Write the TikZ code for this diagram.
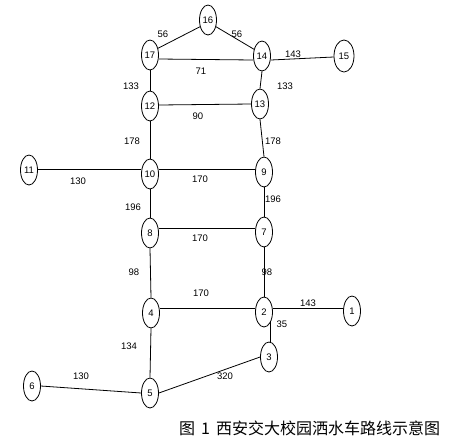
\documentclass[tikz,border=0pt]{standalone}
\usepackage{fontspec}
\setmainfont{Liberation Sans}
\newfontfamily\cjk{Noto Sans CJK SC}
\usetikzlibrary{shapes.geometric}
\begin{document}
\begin{tikzpicture}[x=1pt,y=-1pt,
  vtx/.style={draw,ellipse,minimum width=17pt,minimum height=30pt,inner sep=0pt,line width=0.8pt,font=\fontsize{9.5}{9.5}\selectfont},
  lbl/.style={font=\fontsize{9.5}{9.5}\selectfont,inner sep=0pt},
  edge/.style={draw,line width=0.8pt}]
\useasboundingbox (0,0) rectangle (451,440);
% nodes
\node[vtx] (16) at (208,20) {16};
\node[vtx] (17) at (150,55) {17};
\node[vtx] (14) at (262,56) {14};
\node[vtx,minimum width=20pt,minimum height=32pt] (15) at (344,56) {15};
\node[vtx] (12) at (150,106) {12};
\node[vtx] (13) at (260,104) {13};
\node[vtx] (11) at (29,170) {11};
\node[vtx] (10) at (150,174) {10};
\node[vtx] (9) at (264,172) {9};
\node[vtx] (8) at (150,233) {8};
\node[vtx] (7) at (264,232) {7};
\node[vtx] (4) at (151,313) {4};
\node[vtx] (2) at (264,312) {2};
\node[vtx] (1) at (352,311) {1};
\node[vtx] (3) at (269,357) {3};
\node[vtx] (6) at (32,386) {6};
\node[vtx] (5) at (150,393) {5};
% edges
\draw[edge] (16.220) -- (17.40);
\draw[edge] (16.-40) -- (14.140);
\draw[edge] ([yshift=-4pt]17.east) -- ([yshift=-4pt]14.west);
\draw[edge] ([yshift=-4pt]14.east) -- ([yshift=-1pt]15.west);
\draw[edge] (17.south) -- (12.north);
\draw[edge] (14.south) -- (13.north);
\draw[edge] ([yshift=1pt]12.east) -- (13.west);
\draw[edge] (12.south) -- (10.north);
\draw[edge] (13.south) -- (9.north);
\draw[edge] ([yshift=1pt]11.east) -- ([yshift=5pt]10.west);
\draw[edge] ([yshift=5pt]10.east) -- ([yshift=3pt]9.west);
\draw[edge] (10.south) -- (8.north);
\draw[edge] (9.south) -- (7.north);
\draw[edge] ([yshift=5pt]8.east) -- ([yshift=4pt]7.west);
\draw[edge] (8.south) -- (4.north);
\draw[edge] (7.south) -- (2.north);
\draw[edge] ([yshift=5pt]4.east) -- ([yshift=4pt]2.west);
\draw[edge] ([yshift=4pt]2.east) -- ([yshift=3pt]1.west);
\draw[edge] (2.-55) -- (2.-55 |- 3.north);
\draw[edge] (4.south) -- (5.north);
\draw[edge] (6.east) -- (5.west);
\draw[edge] (5.east) -- (3.west);
% labels
\node[lbl] (l1) at (163,34) {56};
\node[lbl] (l2) at (237,34) {56};
\node[lbl] (l3) at (201,71) {71};
\node[lbl] (l4) at (293,54) {143};
\node[lbl] (l5) at (131,86) {133};
\node[lbl] (l6) at (285,86) {133};
\node[lbl] (l7) at (198,116) {90};
\node[lbl] (l8) at (132,141) {178};
\node[lbl] (l9) at (273,141) {178};
\node[lbl] (l10) at (78,181) {130};
\node[lbl] (l11) at (200,179) {170};
\node[lbl] (l12) at (133,207) {196};
\node[lbl] (l13) at (273,199) {196};
\node[lbl] (l14) at (200,238) {170};
\node[lbl] (l15) at (134,272) {98};
\node[lbl] (l16) at (267,272) {98};
\node[lbl] (l17) at (201,293) {170};
\node[lbl] (l18) at (308,303) {143};
\node[lbl] (l19) at (282,324) {35};
\node[lbl] (l20) at (129,346) {134};
\node[lbl] (l21) at (81,376) {130};
\node[lbl] (l22) at (225,376) {320};
\node[anchor=west,inner sep=0pt,font=\cjk\fontsize{16}{16}\selectfont] (cap) at (179,428) {图\hspace{6pt}1\hspace{6pt}西安交大校园洒水车路线示意图};
\end{tikzpicture}
\end{document}
